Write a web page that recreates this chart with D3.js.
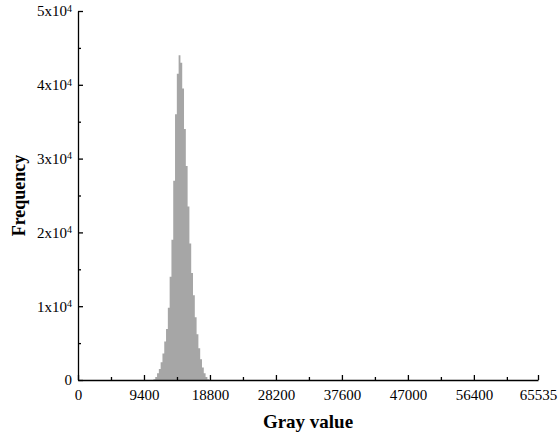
<!DOCTYPE html>
<html>
<head>
<meta charset="utf-8">
<script src="https://cdn.jsdelivr.net/npm/d3@7"></script>
<style>
  body { margin: 0; background: #fff; }
  text { font-family: "Liberation Serif", "Times New Roman", serif; }
</style>
</head>
<body>
<script>
// histogram bins (start gray value) and frequency
var grayStart = [10752, 11008, 11264, 11520, 11776, 12032, 12288, 12544, 12800, 13056,
  13312, 13568, 13824, 14080, 14336, 14592, 14848, 15104, 15360, 15616,
  15872, 16128, 16384, 16640, 16896, 17152, 17408, 17664, 17920, 18176, 18432];
var freq = [100, 400, 900, 1500, 2400, 3600, 5200, 6900, 9800, 14000,
  19000, 27000, 36000, 41500, 44000, 43000, 39500, 34000, 29000, 23500,
  18500, 14500, 11500, 8500, 6200, 4300, 2800, 1700, 900, 400, 100];
var binWidth = 256;

var xTicks = [0, 9400, 18800, 28200, 37600, 47000, 56400, 65535];
var xMinor = [4700, 14100, 23500, 32900, 42300, 51700, 61100];
var yTicks = [0, 10000, 20000, 30000, 40000, 50000];
var yMinor = [5000, 15000, 25000, 35000, 45000];

var width = 558,
  height = 440;
var margin = { left: 78, top: 11, right: 20, bottom: 60 };

var svg = d3
  .select("body")
  .append("svg")
  .attr("width", width)
  .attr("height", height);

var x = d3
  .scaleLinear()
  .domain([0, 65535])
  .range([margin.left, width - margin.right]);

var y = d3
  .scaleLinear()
  .domain([0, 50000])
  .range([height - margin.bottom, margin.top]);

var data = grayStart.map(function(g, i) {
  return { g: g, c: freq[i] };
});
data.push({ g: grayStart[grayStart.length - 1] + binWidth, c: 0 });

var area = d3
  .area()
  .curve(d3.curveStepAfter)
  .x(function(d) { return x(d.g); })
  .y0(y(0))
  .y1(function(d) { return y(d.c); });

svg
  .append("path")
  .datum(data)
  .attr("d", area)
  .attr("fill", "#a6a6a6");

// x axis
var xAxis = svg
  .append("g")
  .attr("transform", "translate(0," + y(0) + ")")
  .call(
    d3.axisBottom(x)
      .tickValues(xTicks)
      .tickSizeInner(-5)
      .tickSizeOuter(0)
      .tickPadding(9)
      .tickFormat(d3.format("d"))
  );

svg
  .append("g")
  .attr("transform", "translate(0," + y(0) + ")")
  .call(
    d3.axisBottom(x)
      .tickValues(xMinor)
      .tickSizeInner(-3)
      .tickSizeOuter(0)
      .tickFormat("")
  )
  .select(".domain")
  .remove();

// y axis
var yAxis = svg
  .append("g")
  .attr("transform", "translate(" + x(0) + ",0)")
  .call(
    d3.axisLeft(y)
      .tickValues(yTicks)
      .tickSizeInner(-5)
      .tickSizeOuter(0)
      .tickPadding(6)
      .tickFormat("")
  );

svg
  .append("g")
  .attr("transform", "translate(" + x(0) + ",0)")
  .call(
    d3.axisLeft(y)
      .tickValues(yMinor)
      .tickSizeInner(-3)
      .tickSizeOuter(0)
      .tickFormat("")
  )
  .select(".domain")
  .remove();

// y labels as "Nx10^4"
yAxis.selectAll(".tick text").each(function(d) {
  var t = d3.select(this);
  if (d === 0) {
    t.text("0");
  } else {
    t.text(d / 10000 + "x10");
    t.append("tspan")
      .attr("dy", "-0.45em")
      .attr("font-size", "10px")
      .text("4");
  }
});

svg.selectAll(".domain").attr("stroke", "#000").attr("stroke-width", 1.3);
svg.selectAll(".tick line").attr("stroke", "#000").attr("stroke-width", 1.3);
svg
  .selectAll(".tick text")
  .attr("font-size", "15px")
  .attr("font-family", "Liberation Serif, Times New Roman, serif")
  .attr("fill", "#000");

// axis titles
svg
  .append("text")
  .attr("x", (x(0) + x(65535)) / 2)
  .attr("y", 428)
  .attr("text-anchor", "middle")
  .attr("font-size", "19px")
  .attr("font-weight", "bold")
  .text("Gray value");

svg
  .append("text")
  .attr("transform", "translate(25," + (y(0) + y(50000)) / 2 + ") rotate(-90)")
  .attr("text-anchor", "middle")
  .attr("font-size", "18px")
  .attr("font-weight", "bold")
  .text("Frequency");
</script>
</body>
</html>
